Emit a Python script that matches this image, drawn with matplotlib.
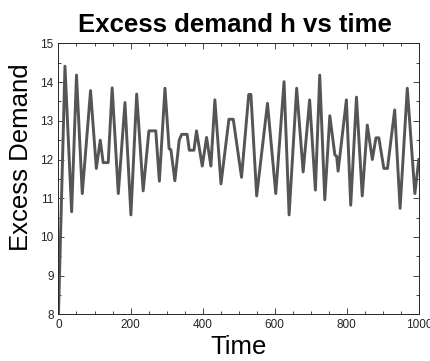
import matplotlib
matplotlib.use("Agg")
import matplotlib.pyplot as plt
from matplotlib.ticker import MultipleLocator

plt.rcParams['font.family'] = ['Liberation Sans', 'DejaVu Sans']

time = [0, 18, 36.5, 50, 66, 89, 105, 116, 124, 138, 149, 166, 184.5, 201, 217, 235,
        251, 270, 280, 295.5, 307, 312, 323, 335, 342, 357, 363, 376, 383, 399, 411,
        423, 434, 451, 473, 485, 508, 528, 534, 550, 580, 603, 626, 640, 661, 679,
        697, 713, 725, 739, 753, 767, 772, 776, 799, 811, 827, 843, 857, 871, 881,
        889, 903, 913, 933, 948, 968, 989, 1000]
excess_demand = [8.0, 14.41, 10.65, 14.18, 11.12, 13.78, 11.77, 12.50, 11.92, 11.92,
                 13.85, 11.12, 13.47, 10.57, 13.69, 11.19,
                 12.74, 12.74, 11.44, 13.84, 12.28, 12.25, 11.45, 12.50, 12.65, 12.65,
                 12.24, 12.24, 12.74, 11.83, 12.57,
                 11.83, 13.54, 11.37, 13.04, 13.04, 11.54, 13.68, 13.68, 11.06, 13.45,
                 11.12, 14.01, 10.57, 13.84, 11.68,
                 13.54, 11.21, 14.18, 10.96, 13.13, 12.12, 12.08, 11.70, 13.54, 10.82,
                 13.61, 11.06, 12.89, 12.0, 12.56,
                 12.56, 11.77, 11.77, 13.28, 10.74, 13.84, 11.12, 12.0]

x_ticks = [0, 200, 400, 600, 800, 1000]
y_ticks = [8, 9, 10, 11, 12, 13, 14, 15]

fig = plt.figure(figsize=(4.30, 3.61), dpi=100)
ax = fig.add_axes([0.136, 0.129, 0.838, 0.751])
ax.plot(time, excess_demand, color='#555555', linewidth=2.1)
ax.set_xlim(0, 1000)
ax.set_ylim(8, 15)
ax.set_xticks(x_ticks)
ax.set_yticks(y_ticks)
ax.xaxis.set_minor_locator(MultipleLocator(50))
ax.yaxis.set_minor_locator(MultipleLocator(0.5))
ax.tick_params(which='both', direction='in', top=True, right=True, labelsize=8.5,
               colors='#262626', width=0.6)
ax.tick_params(which='major', length=4)
ax.tick_params(which='minor', length=2)
for s in ax.spines.values():
    s.set_linewidth(0.7)
    s.set_color('#262626')
ax.set_title('Excess demand h vs time', fontsize=18.5, fontweight='bold', pad=8, x=0.49)
ax.set_xlabel('Time', fontsize=18.5, labelpad=3)
ax.set_ylabel('Excess Demand', fontsize=18.5)
ax.yaxis.set_label_coords(-0.072, 0.58)
fig.savefig('out.png', dpi=100)
